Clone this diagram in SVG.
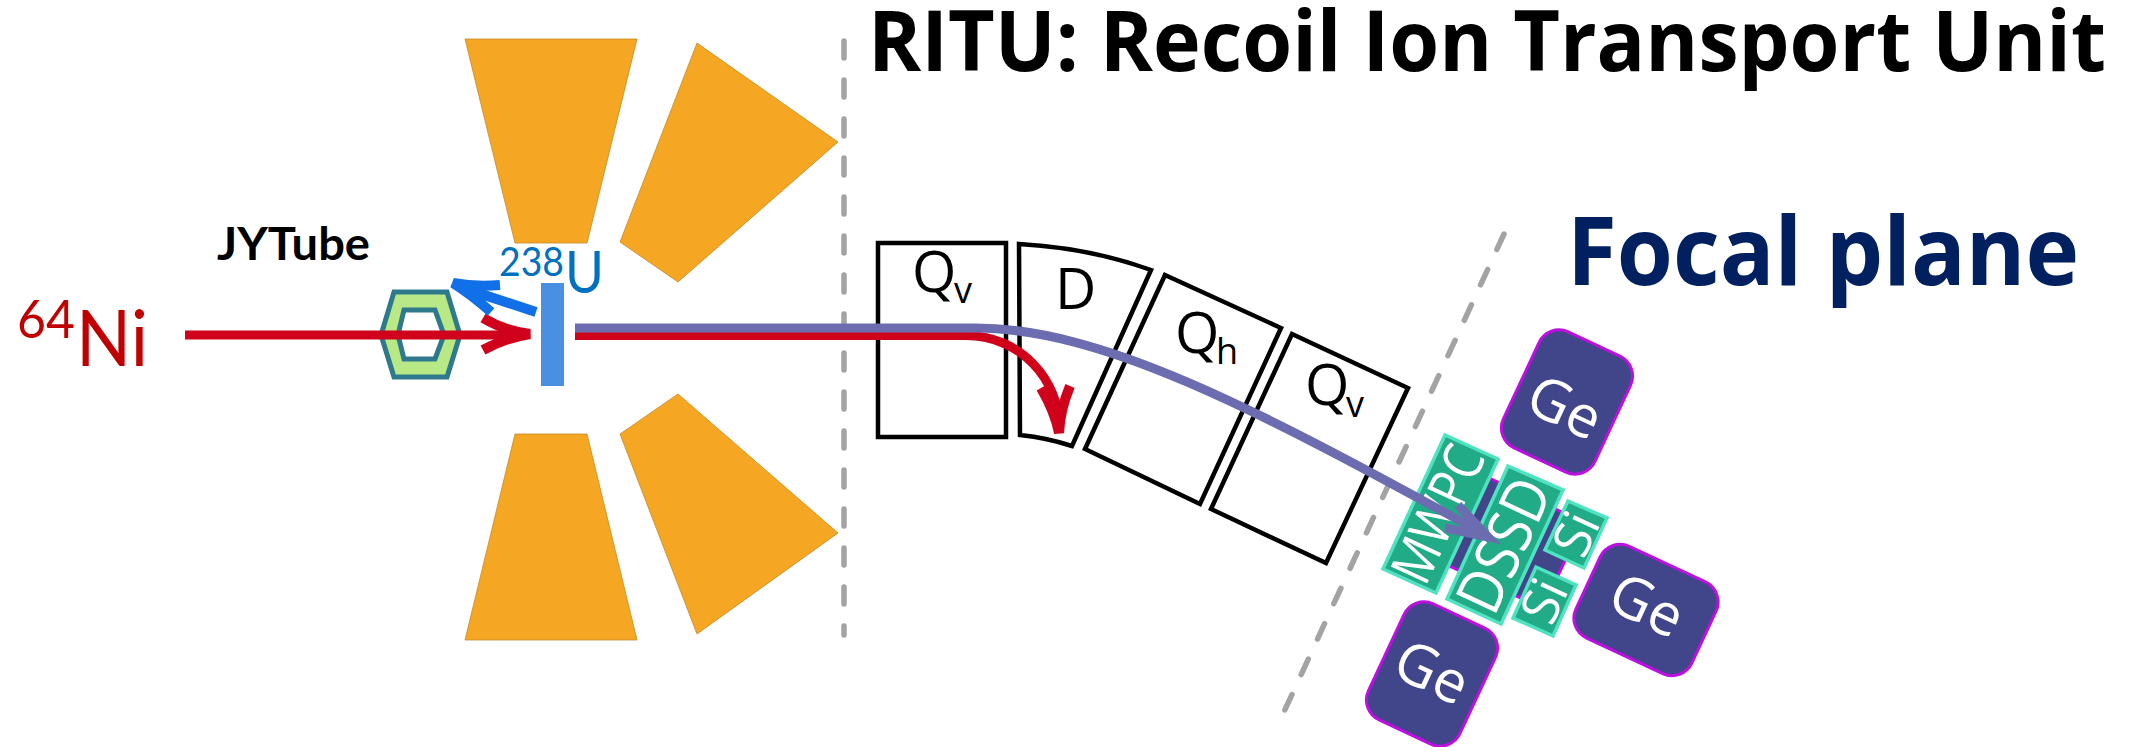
<svg xmlns="http://www.w3.org/2000/svg" width="2139" height="747" viewBox="0 0 2139 747">
<style>
text{font-family:"Open Sans","Noto Sans",sans-serif}
.lat{font-family:Lato,sans-serif}
.mag{fill:#F5A623;stroke:#C48A25;stroke-width:.8}
.box{fill:#fff;stroke:#000;stroke-width:4.5;stroke-linejoin:miter}
.blk{fill:#000;font-size:57px;font-weight:400}
.sub{fill:#000;font-size:36px;font-weight:400}
.det{fill:#22AB87;stroke:#50E3C2;stroke-width:3.5}
.ge{fill:#41458A;stroke:#BD10E0;stroke-width:3}
.w{fill:#fff;font-weight:400;text-anchor:middle}
.dash{fill:none;stroke:#A3A3A3;stroke-width:5.5;stroke-dasharray:17 22;stroke-linecap:round}
.red{fill:none;stroke:#D0021B;stroke-width:9}
.barb{fill:none;stroke:#D0021B;stroke-width:10}
.blue{fill:none;stroke:#1170E8;stroke-width:10}
.pur{fill:none;stroke:#6C6CB0;stroke-width:9}
</style>
<g id="magnets">
<polygon class="mag" points="465,39 637,39 587,243 515,243"/>
<polygon class="mag" points="697,43 838,142 678,282 620,242"/>
<polygon class="mag" points="678,394 838,533 697,634 620,434"/>
<polygon class="mag" points="515,434 587,434 637,640 465,640"/>
</g>
<g id="guides">
<line class="dash" x1="844" y1="41" x2="844" y2="635"/>
<line class="dash" x1="1504" y1="234" x2="1277" y2="727"/>
</g>
<g id="title"><text x="868" y="71" font-size="84" font-weight="700" fill="#000" textLength="1238" lengthAdjust="spacingAndGlyphs">RITU: Recoil Ion Transport Unit</text></g>
<g id="focal"><text x="1567" y="285" font-size="95" font-weight="700" fill="#002060" textLength="512" lengthAdjust="spacingAndGlyphs">Focal plane</text></g>
<g id="jytube">
<text class="lat" x="217" y="260" font-size="46" font-weight="700" fill="#000" textLength="153" lengthAdjust="spacingAndGlyphs">JYTube</text>
<polygon points="394,292 447,292 460,335 447,377 394,377 381,335" fill="#B8E986" stroke="#2E7A8C" stroke-width="5"/>
<polygon points="404,310 435,310 444,335 435,359 404,359 398,335" fill="#fff" stroke="#2E7A8C" stroke-width="5"/>
</g>
<g id="beam-label">
<text class="lat" x="17" y="338" font-size="52" fill="#C00000" textLength="58" lengthAdjust="spacingAndGlyphs">64</text>
<text class="lat" x="76" y="366" font-size="78" fill="#C00000" textLength="72" lengthAdjust="spacingAndGlyphs">Ni</text>
</g>
<g id="target">
<rect x="541" y="283" width="23" height="103" fill="#4A90E2"/>
<text class="lat" x="499" y="276" font-size="40" fill="#0070C0" textLength="65" lengthAdjust="spacingAndGlyphs">238</text>
<text class="lat" x="565" y="293" font-size="58" fill="#0070C0" textLength="39" lengthAdjust="spacingAndGlyphs">U</text>
</g>
<g id="Qv1">
<rect class="box" x="878" y="243" width="128" height="194"/>
<text class="blk" x="912" y="292">Q</text><text class="sub" x="954" y="303">v</text>
</g>
<g id="D">
<path class="box" d="M1019,244 Q1090,248 1151,270 L1072,446 Q1048,438 1020,435 Z"/>
<text class="blk" x="1055" y="309">D</text>
</g>
<g id="Qh">
<polygon class="box" points="1165,275 1281,328 1200,504 1085,449"/>
<text class="blk" x="1175" y="353">Q</text><text class="sub" x="1216" y="364">h</text>
</g>
<g id="Qv2">
<polygon class="box" points="1292,334 1408,388 1326,563 1211,509"/>
<text class="blk" x="1305" y="405">Q</text><text class="sub" x="1346" y="417">v</text>
</g>
<g id="Ge1"><rect class="ge" x="-50.500" y="-64" width="101" height="128" rx="22" transform="translate(1567,402) rotate(25)"/><text class="w" font-size="58" transform="translate(1565,407) rotate(25)" dy=".35em">Ge</text></g>
<g id="Ge2"><rect class="ge" x="-64" y="-50.500" width="128" height="101" rx="22" transform="translate(1646,610) rotate(25)"/><text class="w" font-size="58" transform="translate(1647,605) rotate(25)" dy=".35em">Ge</text></g>
<g id="Ge3"><rect class="ge" x="-50.500" y="-64" width="101" height="128" rx="22" transform="translate(1432,674) rotate(25)"/><text class="w" font-size="58" transform="translate(1432,672) rotate(25)" dy=".35em">Ge</text></g>
<g id="backing"><polygon class="ge" points="1487,477 1583,522 1543,608 1447,565"/></g>
<g id="MWPC"><polygon class="det" points="1445,435 1498,459 1436,593 1383,569"/><text class="w" font-size="56" transform="translate(1438,514) rotate(-65)" dy=".35em" textLength="144" lengthAdjust="spacingAndGlyphs">MWPC</text></g>
<g id="DSSD"><polygon class="det" points="1508,466 1563,490 1501,624 1447,599"/><text class="w" font-size="62" transform="translate(1504,545) rotate(-65)" dy=".35em" textLength="140" lengthAdjust="spacingAndGlyphs">DSSD</text></g>
<g id="Si1"><polygon class="det" points="1568,501 1607,518 1584,568 1545,550"/><text class="w" font-size="52" transform="translate(1576,534) rotate(-65)" dy=".35em">Si</text></g>
<g id="Si2"><polygon class="det" points="1536,567 1576,585 1553,636 1513,618"/><text class="w" font-size="52" transform="translate(1544,601) rotate(-65)" dy=".35em">Si</text></g>
<g id="connectors">
<path class="red" d="M185,335H526"/>
<path class="barb" d="M483,318Q505,331 530,334Q505,338 483,350"/>
<path class="blue" d="M536,312L460,287"/>
<path class="blue" d="M500,285Q475,287 453,283Q472,295 491,312"/>
<path class="red" d="M575,335.500H965C1020,335 1060,380 1059,428"/>
<path class="pur" d="M575,328H975C1100,328 1250,405 1484,534"/>
<path class="pur" d="M1458,505L1488,537L1445,528"/>
<path class="barb" d="M1041,388Q1055,412 1059,433Q1060,410 1070,386"/>
</g>
</svg>
